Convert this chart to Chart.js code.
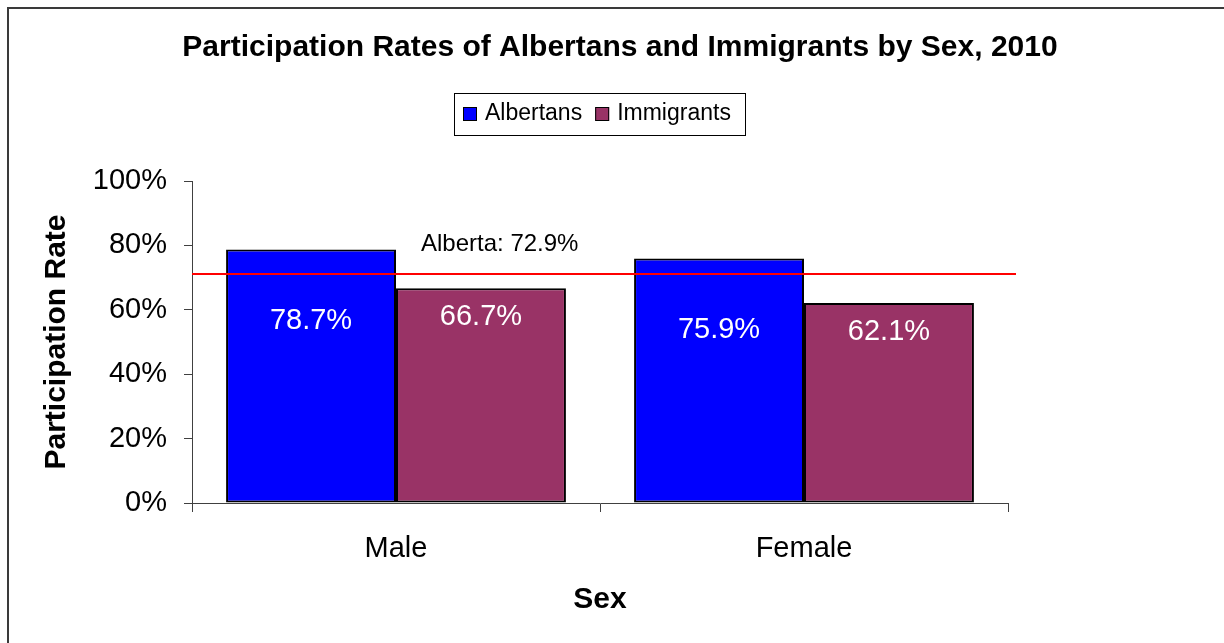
<!DOCTYPE html>
<html>
<head>
<meta charset="utf-8">
<title>Participation Rates of Albertans and Immigrants by Sex, 2010</title>
<script src="https://cdn.jsdelivr.net/npm/chart.js@4.4.1/dist/chart.umd.min.js"></script>
<style>
  html, body { margin: 0; padding: 0; background: #fff; }
  canvas { display: block; }
</style>
</head>
<body>
<canvas id="chart" width="1224" height="643"></canvas>
<script>
// ── Data ─────────────────────────────────────────────────────────────────────
const categories  = ['Male', 'Female'];
const albertans   = [78.7, 75.9];
const immigrants  = [66.7, 62.1];
const yTicks      = [0, 20, 40, 60, 80, 100];
const albertaLine = 71.0;               // where the red reference line sits
const albertaText = 'Alberta: 72.9%';

const FONT = '"Liberation Sans", Arial, Helvetica, sans-serif';
const AXIS = '#404040';

// ── Plugins ──────────────────────────────────────────────────────────────────
const frame = {
  id: 'frame',
  beforeDraw(chart) {
    const ctx = chart.ctx;
    ctx.save();
    ctx.fillStyle = '#fff';
    ctx.fillRect(0, 0, chart.width, chart.height);
    ctx.strokeStyle = '#3a3a3a';
    ctx.lineWidth = 2;
    ctx.strokeRect(8, 8, chart.width + 40, chart.height + 40);

    // title
    ctx.fillStyle = '#000';
    ctx.font = 'bold 30px ' + FONT;
    ctx.textAlign = 'center';
    ctx.textBaseline = 'middle';
    ctx.fillText('Participation Rates of Albertans and Immigrants by Sex, 2010', 620, 48);

    // legend box
    ctx.strokeStyle = '#000';
    ctx.lineWidth = 1;
    ctx.strokeRect(454.5, 93.5, 291, 42);
    ctx.font = '23px ' + FONT;
    ctx.textAlign = 'left';
    let x = 463;
    chart.data.datasets.forEach(ds => {
      ctx.fillStyle = ds.backgroundColor;
      ctx.fillRect(x, 107, 14, 14);
      ctx.strokeRect(x + 0.5, 107.5, 13, 13);
      ctx.fillStyle = '#000';
      ctx.fillText(ds.label, x + 22, 114);
      x += 22 + ctx.measureText(ds.label).width + 13;
    });
    ctx.restore();
  },
  afterDatasetsDraw(chart) {
    const ctx = chart.ctx;
    const { left, right } = chart.chartArea;
    const ly = Math.round(chart.scales.y.getPixelForValue(albertaLine));

    ctx.save();
    // reference line
    ctx.strokeStyle = '#ff0000';
    ctx.lineWidth = 2;
    ctx.beginPath();
    ctx.moveTo(left, ly);
    ctx.lineTo(right + 8, ly);
    ctx.stroke();

    ctx.fillStyle = '#000';
    ctx.font = '24px ' + FONT;
    ctx.textAlign = 'left';
    ctx.textBaseline = 'alphabetic';
    ctx.fillText(albertaText, left + 229, ly - 23.5);

    // value labels inside bars
    ctx.font = '29px ' + FONT;
    ctx.fillStyle = '#fff';
    ctx.textAlign = 'center';
    ctx.textBaseline = 'middle';
    chart.data.datasets.forEach((ds, i) => {
      chart.getDatasetMeta(i).data.forEach((bar, j) => {
        ctx.fillText(ds.data[j].toFixed(1) + '%', bar.x, bar.y + ds.labelOffset);
      });
    });
    ctx.restore();
  }
};

// ── Chart ────────────────────────────────────────────────────────────────────
new Chart(document.getElementById('chart'), {
  type: 'bar',
  data: {
    labels: categories,
    datasets: [
      {
        label: 'Albertans',
        data: albertans,
        backgroundColor: '#0000ff',
        borderColor: '#000',
        borderWidth: 2, borderSkipped: false,
        labelOffset: 71,
      },
      {
        label: 'Immigrants',
        data: immigrants,
        backgroundColor: '#993366',
        borderColor: '#000',
        borderWidth: 2, borderSkipped: false,
        labelOffset: 29,
      },
    ],
  },
  options: {
    responsive: false, animation: false, devicePixelRatio: 1,
    layout: { padding: { top: 181, right: 216, bottom: 0, left: 0 } },
    datasets: { bar: { categoryPercentage: 0.833, barPercentage: 1.0 } },
    plugins: { legend: { display: false }, title: { display: false }, tooltip: { enabled: false } },
    scales: {
      x: {
        grid: { drawOnChartArea: false, drawTicks: true, tickLength: 9, color: AXIS, offset: true },
        border: { color: AXIS, width: 1 },
        ticks: { color: '#000', font: { family: FONT, size: 29 }, padding: 20 },
        title: { display: true, text: 'Sex', color: '#000', font: { family: FONT, size: 30, weight: 'bold' }, padding: { top: 0, bottom: 25 } },
        afterFit(scale) { scale.height = 140; },
      },
      y: {
        min: 0, max: 100,
        afterBuildTicks(scale) { scale.ticks = yTicks.map(v => ({ value: v })); },
        grid: { drawOnChartArea: false, drawTicks: true, tickLength: 8, color: AXIS },
        border: { color: AXIS, width: 1 },
        ticks: { color: '#000', font: { family: FONT, size: 29 }, padding: 17, callback: v => v + '%' },
        title: { display: true, text: 'Participation Rate', color: '#000', font: { family: FONT, size: 30, weight: 'bold' }, padding: { top: 39, bottom: 0 } },
        afterFit(scale) { scale.width = 192; },
      },
    },
  },
  plugins: [frame],
});
</script>
</body>
</html>
